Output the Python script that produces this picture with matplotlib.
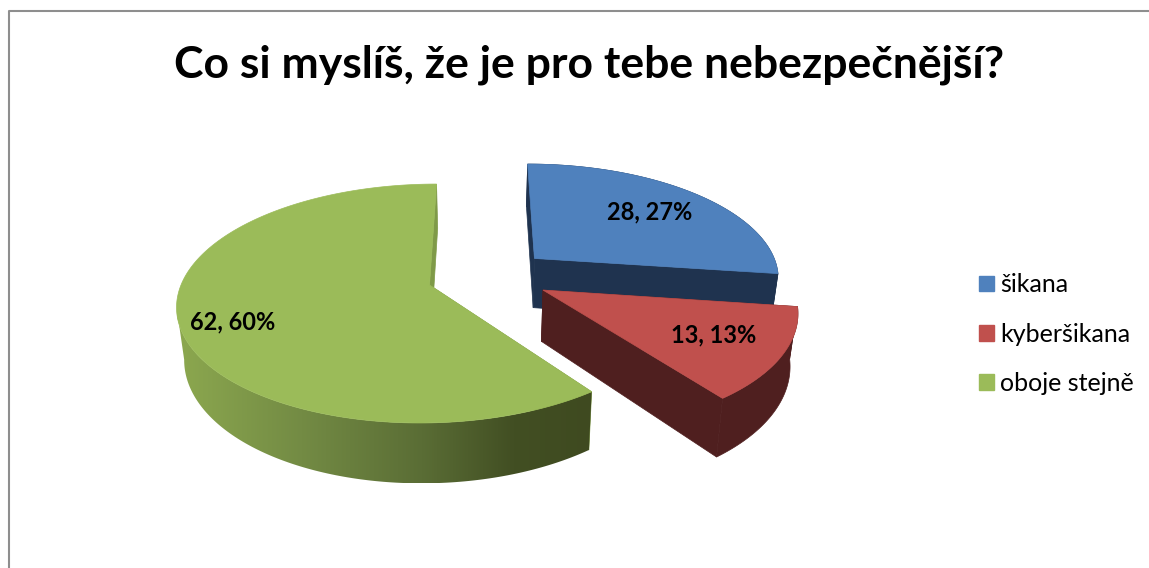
import numpy as np
import matplotlib
matplotlib.use("Agg")
import matplotlib.pyplot as plt
from matplotlib.colors import LinearSegmentedColormap
from matplotlib.patches import Patch, Polygon

names = ["šikana", "kyberšikana", "oboje stejně"]
values = [28, 13, 62]
percents = [27, 13, 60]
title = "Co si myslíš, že je pro tebe nebezpečnější?"

top_colors = ["#4F81BD", "#C0504D", "#9BBB59"]
side_colors = ["#1F334F", "#4F1F1F", "#7F9A48"]
explode = [(0.43, -0.236), (0.455, 0.043), (0.0, 0.0)]
label_pos = [(650, 212), (714, 335), (233, 322)]

# shading of the green outer wall, left to right
grad_stops = [0.0, 0.3, 0.59, 0.81, 1.0]
grad_colors = ["#8CA84F", "#738B44", "#5A6D35", "#424F23", "#3F4A20"]

# fake perspective of the 3d pie, in pixels
cx, cy = 429.5, 285
x0 = 482
R = 248.5
R2 = 116.6
k = 0.155
depth = 51
shrink = 0.975


def project(u, v):
    s = 1 / (1 - k * v)
    x = x0 + (R * u - (x0 - cx)) * s
    y = cy + R2 * v * s
    return x, y, s


def project_bottom(u, v):
    x, y, s = project(u, v)
    return x0 + (x - x0) * shrink, y + depth * s


def rim(du, dv, a1, a2, n=240):
    a = np.radians(np.linspace(a1, a2, n))
    return du + np.sin(a), dv - np.cos(a)


fig = plt.figure(figsize=(11.49, 5.68), dpi=100)
ax = fig.add_axes([0, 0, 1, 1])

ax.plot([9, 9, 1149], [568, 11, 11], color="#8E8E8E", lw=1.5)

total = sum(values)
angles = np.cumsum([0] + values) / total * 360
cmap = LinearSegmentedColormap.from_list("wall", list(zip(grad_stops, grad_colors)))


def draw_slice(i):
    du, dv = explode[i]
    a1, a2 = angles[i], angles[i + 1]
    u, v = rim(du, dv, a1, a2)
    xt, yt, _ = project(u, v)
    ax0, ay0, _ = project(du, dv)
    bx0, by0 = project_bottom(du, dv)
    xb, yb = project_bottom(u, v)

    side = side_colors[i]
    # two cut faces
    for j in [0, -1]:
        pts = [(ax0, ay0), (xt[j], yt[j]), (xb[j], yb[j]), (bx0, by0)]
        ax.add_patch(Polygon(pts, fc=side, ec=side, lw=0.5, zorder=2 + i))

    # outer wall, the green one is shaded and stops at its leftmost point
    if i == 2:
        last = np.argmin(xt) + 1
        xt, yt, xb, yb = xt[:last], yt[:last], xb[:last], yb[:last]
    pts = np.column_stack([np.r_[xt, xb[::-1]], np.r_[yt, yb[::-1]]])
    if i == 2:
        wall = Polygon(pts, fc="none", ec="none", zorder=2 + i)
        ax.add_patch(wall)
        im = ax.imshow(np.linspace(0, 1, 256)[None, :], cmap=cmap, aspect="auto",
                       extent=[xt.min(), xt.max(), yb.max(), yt.min()], zorder=2 + i)
        im.set_clip_path(wall)
    else:
        ax.add_patch(Polygon(pts, fc=side, ec=side, lw=0.5, zorder=2 + i))

    # top
    xt, yt, _ = project(*rim(du, dv, a1, a2))
    pts = np.column_stack([np.r_[ax0, xt], np.r_[ay0, yt]])
    ax.add_patch(Polygon(pts, fc=top_colors[i], ec=top_colors[i], lw=0.5, zorder=2.5 + i))


for i in [0, 2, 1]:
    draw_slice(i)

ax.set_xlim(0, 1149)
ax.set_ylim(568, 0)
ax.axis("off")

for i in range(3):
    ax.text(label_pos[i][0], label_pos[i][1], "%d, %d%%" % (values[i], percents[i]),
            family="Lato", fontsize=17, fontweight="bold", color="black",
            ha="center", va="center", zorder=10)

ax.text(589, 65, title, family="Lato", fontsize=32, fontweight="bold",
        color="black", ha="center", va="center")

handles = [Patch(color=top_colors[i], label=names[i]) for i in range(3)]
ax.legend(handles=handles, loc="center left", bbox_to_anchor=(979 / 1149, 1 - 334 / 568),
          frameon=False, prop={"family": "Lato", "size": 18}, handlelength=0.6,
          handleheight=0.6, handletextpad=0.25, labelspacing=1.05,
          borderpad=0, borderaxespad=0)

fig.savefig("out.png", dpi=100)
